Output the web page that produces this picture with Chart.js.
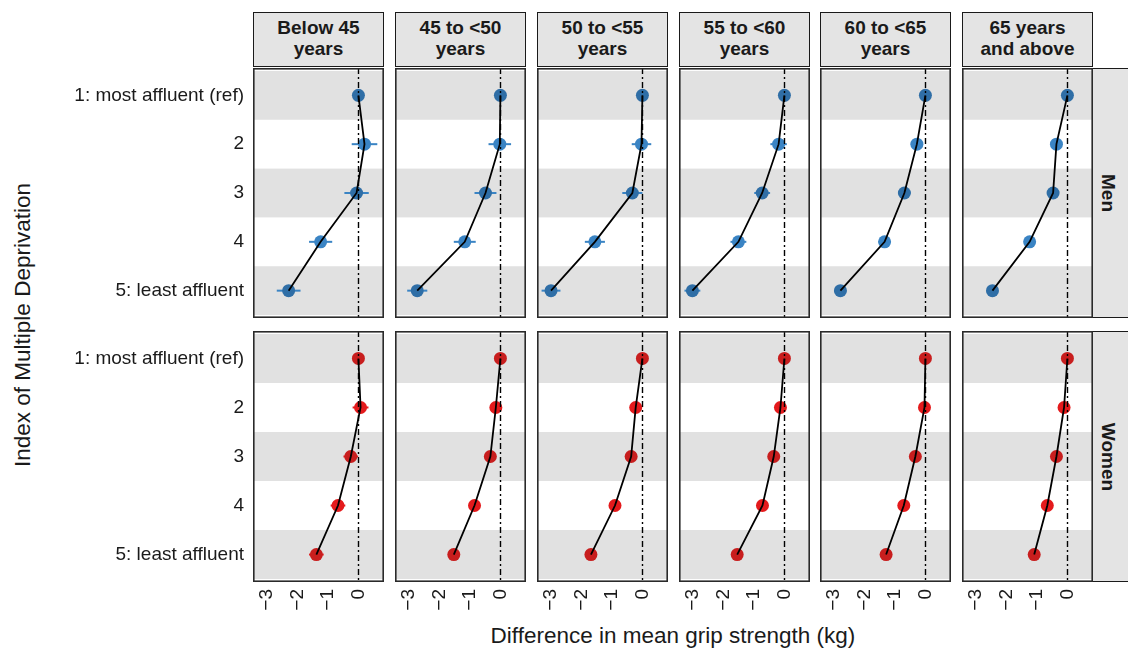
<!DOCTYPE html>
<html><head><meta charset="utf-8">
<script src="https://cdn.jsdelivr.net/npm/chart.js@4.4.1/dist/chart.umd.min.js"></script>
<style>
html,body{margin:0;padding:0;background:#fff;width:1128px;height:652px;overflow:hidden;font-family:"Liberation Sans",Arial,sans-serif;}
.strip{position:absolute;box-sizing:border-box;background:#e4e4e4;border:1.5px solid #1a1a1a;display:flex;align-items:center;justify-content:center;text-align:center;font-weight:bold;font-size:19px;line-height:21px;color:#1a1a1a;}
.panel{position:absolute;}
.txt{position:absolute;white-space:nowrap;color:#1a1a1a;}
</style></head><body>
<script>
// ---------- DATA ----------
const categories = ["1: most affluent (ref)", "2", "3", "4", "5: least affluent"];
const ageGroups = [["Below 45","years"],["45 to <50","years"],["50 to <55","years"],["55 to <60","years"],["60 to <65","years"],["65 years","and above"]];
const sexes = ["Men","Women"];
const xTicks = [-3,-2,-1,0];
const xTitle = "Difference in mean grip strength (kg)";
const yTitle = "Index of Multiple Deprivation";

// Men: estimates and half-width of error bars
const menBelow45 = [0, 0.20, -0.06, -1.24, -2.29];
const men45to50  = [0, -0.02, -0.49, -1.17, -2.73];
const men50to55  = [0, -0.03, -0.33, -1.56, -3.00];
const men55to60  = [0, -0.19, -0.73, -1.51, -3.02];
const men60to65  = [0, -0.28, -0.69, -1.34, -2.79];
const men65plus  = [0, -0.36, -0.47, -1.24, -2.46];
const menErrBelow45 = [0, 0.42, 0.40, 0.38, 0.39];
const menErr45to50  = [0, 0.37, 0.36, 0.36, 0.33];
const menErr50to55  = [0, 0.32, 0.33, 0.33, 0.31];
const menErr55to60  = [0, 0.27, 0.26, 0.26, 0.26];
const menErr60to65  = [0, 0.20, 0.20, 0.20, 0.20];
const menErr65plus  = [0, 0.18, 0.18, 0.18, 0.18];

// Women
const womenBelow45 = [0, 0.07, -0.25, -0.67, -1.38];
const women45to50  = [0, -0.15, -0.33, -0.85, -1.53];
const women50to55  = [0, -0.22, -0.37, -0.90, -1.69];
const women55to60  = [0, -0.13, -0.35, -0.72, -1.55];
const women60to65  = [0, -0.03, -0.33, -0.71, -1.29];
const women65plus  = [0, -0.11, -0.36, -0.66, -1.09];
const womenErrBelow45 = [0, 0.26, 0.24, 0.24, 0.24];
const womenErr45to50  = [0, 0.18, 0.18, 0.18, 0.18];
const womenErr50to55  = [0, 0.16, 0.16, 0.16, 0.16];
const womenErr55to60  = [0, 0.14, 0.14, 0.14, 0.14];
const womenErr60to65  = [0, 0.14, 0.14, 0.14, 0.14];
const womenErr65plus  = [0, 0.13, 0.13, 0.13, 0.13];

const menEst = [menBelow45, men45to50, men50to55, men55to60, men60to65, men65plus];
const menErr = [menErrBelow45, menErr45to50, menErr50to55, menErr55to60, menErr60to65, menErr65plus];
const womenEst = [womenBelow45, women45to50, women50to55, women55to60, women60to65, women65plus];
const womenErr = [womenErrBelow45, womenErr45to50, womenErr50to55, womenErr55to60, womenErr60to65, womenErr65plus];

// ---------- LAYOUT / STYLE ----------
const X_MIN = -3.46, X_MAX = 0.84, Y_MIN = 0.44, Y_MAX = 5.56;
const panelLeft = [253, 395, 537, 679, 820, 962];
const panelW = 131;
const rowTop = [68, 331];
const rowH = [250, 251];
const LEFT_AXIS = 253, BOTTOM_AXIS = 45;
const TEXT = '#1a1a1a';
const styles = [
  {dark:'#2f6ea6', light:'#3a84c4', err:'#3a84c4'},
  {dark:'#c81e1e', light:'#e41a1c', err:'#e41a1c'}
];
const bandColor = '#e1e1e1';

// strips
ageGroups.forEach((g,c)=>{
  const d = document.createElement('div');
  d.className='strip';
  d.style.left=panelLeft[c]+'px'; d.style.top='12px';
  d.style.width=panelW+'px'; d.style.height='55px';
  d.style.paddingBottom='3px';
  d.innerHTML = g.join('<br>');
  document.body.appendChild(d);
});
sexes.forEach((s,r)=>{
  const d = document.createElement('div');
  d.className='strip';
  d.style.left='1092px'; d.style.top=rowTop[r]+'px';
  d.style.width='50px'; d.style.height=rowH[r]+'px';
  document.body.appendChild(d);
  const t = document.createElement('div');
  t.className='txt';
  t.style.fontWeight='bold'; t.style.fontSize='19px'; t.style.lineHeight='20px';
  t.style.width='120px'; t.style.textAlign='center';
  t.style.left=(1107.5-60)+'px'; t.style.top=(rowTop[r]+rowH[r]/2-10)+'px';
  t.style.transform='rotate(90deg)';
  t.textContent=s;
  document.body.appendChild(t);
});
// titles
(function(){
  const t = document.createElement('div');
  t.className='txt'; t.style.fontSize='22.5px'; t.style.lineHeight='22px';
  t.style.width='600px'; t.style.textAlign='center';
  t.style.left=(673-300)+'px'; t.style.top='625px';
  t.textContent=xTitle; document.body.appendChild(t);
  const y = document.createElement('div');
  y.className='txt'; y.style.fontSize='22.5px'; y.style.lineHeight='22px';
  y.style.width='500px'; y.style.textAlign='center';
  y.style.left=(23-250)+'px'; y.style.top=(325-11)+'px';
  y.style.transform='rotate(-90deg)';
  y.textContent=yTitle; document.body.appendChild(y);
})();

function zeroPad(s){ s.paddingTop=0; s.paddingBottom=0; s.paddingLeft=0; s.paddingRight=0; }

function makePanel(r, c){
  const est = r===0 ? menEst[c] : womenEst[c];
  const err = r===0 ? menErr[c] : womenErr[c];
  const st = styles[r];
  const showY = c===0, showX = r===1;
  const extraL = showY ? LEFT_AXIS : 0;
  const extraB = showX ? BOTTOM_AXIS : 0;
  const w = panelW + extraL, h = rowH[r] + extraB;
  const div = document.createElement('div');
  div.className='panel';
  div.style.left=(panelLeft[c]-extraL)+'px'; div.style.top=rowTop[r]+'px';
  div.style.width=w+'px'; div.style.height=h+'px';
  const cv = document.createElement('canvas');
  div.appendChild(cv); document.body.appendChild(div);

  const pts = est.map((v,i)=>({x:v, y:i+1}));
  const ptColors = est.map((v,i)=> i%2===0 ? st.dark : st.light);

  const deco = {
    id:'deco',
    beforeDatasetsDraw(chart){
      const {ctx, chartArea:a, scales:{x,y}} = chart;
      ctx.save();
      ctx.beginPath(); ctx.rect(a.left,a.top,a.width,a.height); ctx.clip();
      ctx.fillStyle = bandColor;
      categories.forEach((_,i)=>{
        if(i%2===0){
          const y0=y.getPixelForValue(i+0.5), y1=y.getPixelForValue(i+1.5);
          ctx.fillRect(a.left, Math.min(y0,y1), a.width, Math.abs(y1-y0));
        }
      });
      ctx.strokeStyle = st.err; ctx.lineWidth = 2;
      est.forEach((v,i)=>{
        const e = err[i]; if(!e) return;
        const py = y.getPixelForValue(i+1);
        ctx.beginPath();
        ctx.moveTo(x.getPixelForValue(v-e), py);
        ctx.lineTo(x.getPixelForValue(v+e), py);
        ctx.stroke();
      });
      ctx.restore();
    },
    afterDatasetsDraw(chart){
      const {ctx, chartArea:a, scales:{x}} = chart;
      ctx.save();
      const px = Math.round(x.getPixelForValue(0))+0.5;
      ctx.strokeStyle='#000'; ctx.lineWidth=1.4;
      ctx.setLineDash([6,3,2,3]);
      ctx.beginPath(); ctx.moveTo(px, a.top); ctx.lineTo(px, a.bottom); ctx.stroke();
      ctx.setLineDash([]);
      ctx.strokeStyle='#2a2a2a'; ctx.lineWidth=1.6;
      ctx.strokeRect(a.left+0.8, a.top+0.8, a.width-1.6, a.height-1.6);
      ctx.restore();
    }
  };

  new Chart(cv, {
    type:'scatter',
    data:{datasets:[
      {data:pts, showLine:false, pointRadius:6.5, pointHoverRadius:6.5, pointBorderWidth:0,
       pointBackgroundColor:ptColors, backgroundColor:ptColors, order:2, clip:false},
      {data:pts, showLine:true, pointRadius:0, borderColor:'#000', borderWidth:1.8, tension:0, order:1, clip:false}
    ]},
    options:{
      responsive:true, maintainAspectRatio:false, animation:false, events:[],
      layout:{padding:0, autoPadding:false},
      plugins:{legend:{display:false}, tooltip:{enabled:false}},
      scales:{
        x:{type:'linear', min:X_MIN, max:X_MAX, display:showX, position:'bottom',
           grid:{display:false, drawTicks:false}, border:{display:false},
           afterBuildTicks:s=>{s.ticks = xTicks.map(v=>({value:v}));},
           afterFit:s=>{ if(showX) s.height = BOTTOM_AXIS; else s.height = 0; zeroPad(s); },
           ticks:{autoSkip:false, minRotation:90, maxRotation:90, padding:7, labelOffset:0,
             color:TEXT, font:{family:'"Liberation Sans", Arial, sans-serif', size:19, lineHeight:1},
             callback:v=>String(v).replace('-', '\u2212')}},
        y:{type:'linear', reverse:true, min:Y_MIN, max:Y_MAX, display:showY, position:'left',
           grid:{display:false, drawTicks:false}, border:{display:false},
           afterBuildTicks:s=>{s.ticks = categories.map((_,i)=>({value:i+1}));},
           afterFit:s=>{ if(showY) s.width = LEFT_AXIS; else s.width = 0; zeroPad(s); },
           ticks:{autoSkip:false, padding:9, color:TEXT,
             font:{family:'"Liberation Sans", Arial, sans-serif', size:19},
             callback:v=>categories[Math.round(v)-1]}}
      }
    },
    plugins:[deco]
  });
}
for(let r=0;r<2;r++) for(let c=0;c<6;c++) makePanel(r,c);
</script>
</body></html>
